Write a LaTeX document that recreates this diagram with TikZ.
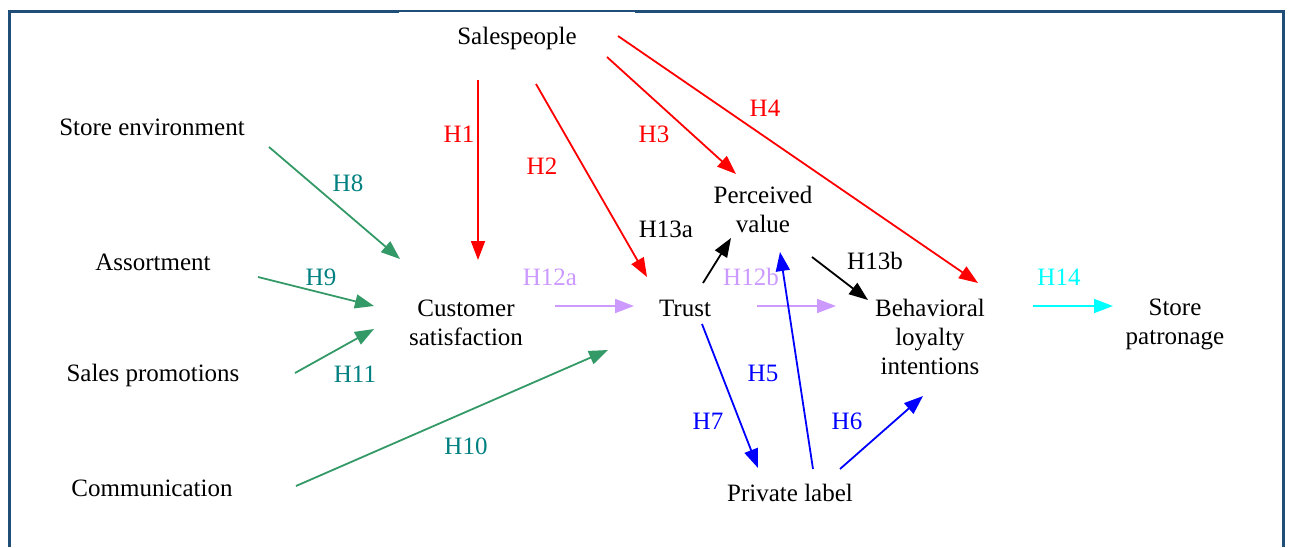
\documentclass[tikz,border=0pt]{standalone}
\usepackage{fontspec}
\setmainfont{LiberationSerif}[Extension=.ttf, UprightFont=*-Regular, BoldFont=*-Bold]
\usetikzlibrary{arrows.meta}
\definecolor{frameblue}{HTML}{1F4E79}
\definecolor{arrgreen}{HTML}{339966}
\definecolor{labteal}{HTML}{008080}
\definecolor{lilac}{HTML}{CC99FF}
\definecolor{aqua}{RGB}{0,255,255}
\definecolor{pureblue}{RGB}{0,0,255}
\definecolor{purered}{RGB}{255,0,0}
\begin{document}
\begin{tikzpicture}[x=1pt,y=-1pt,
  every node/.style={font=\fontsize{25}{29}\selectfont, inner sep=0pt, align=center},
  concept/.style={text=black},
  hyp/.style={line width=1.8pt, -{Triangle[length=19pt,width=14pt]}}]
\useasboundingbox (0,0) rectangle (1291,547);
% frame, open at the bottom
\draw[frameblue, line width=3pt] (9,547) -- (9,11.5) -- (1283,11.5) -- (1283,547);
\fill[white] (399,11.6) rectangle (635,20);

% constructs
\node[concept] (sales) at (517,38) {Salespeople};
\node[concept] (env)   at (152,127) {Store environment};
\node[concept] (assort) at (153,262) {Assortment};
\node[concept] (promo) at (153,375) {Sales promotions};
\node[concept] (comm)  at (152,488) {Communication};
\node[concept] (cs)    at (466,323) {Customer\\satisfaction};
\node[concept] (trust) at (685,308) {Trust};
\node[concept] (pv)    at (763,209) {Perceived\\value};
\node[concept] (bli)   at (930,337) {Behavioral\\loyalty\\intentions};
\node[concept] (sp)    at (1175,324) {Store\\patronage};
\node[concept] (pl)    at (790,493) {Private label};

% arrow end points
\coordinate (h8a) at (269,147);  \coordinate (h8b) at (400,259);
\coordinate (h9a) at (258,277);  \coordinate (h9b) at (374,306);
\coordinate (h11a) at (295,373); \coordinate (h11b) at (374,329);
\coordinate (h10a) at (296,486); \coordinate (h10b) at (608,350);
\coordinate (h1a) at (478,80);   \coordinate (h1b) at (478,260);
\coordinate (h2a) at (536,84);   \coordinate (h2b) at (647,277);
\coordinate (h3a) at (607,57);   \coordinate (h3b) at (736,174);
\coordinate (h4a) at (618,36);   \coordinate (h4b) at (978,283);
\coordinate (h12aa) at (555,306); \coordinate (h12ab) at (634,306);
\coordinate (h13aa) at (703,283); \coordinate (h13ab) at (731,238);
\coordinate (h12ba) at (757,306); \coordinate (h12bb) at (836,306);
\coordinate (h13ba) at (812,257); \coordinate (h13bb) at (868,300);
\coordinate (h5a) at (813,469);  \coordinate (h5b) at (780,252);
\coordinate (h7a) at (702,324);  \coordinate (h7b) at (758,468);
\coordinate (h6a) at (840,469);  \coordinate (h6b) at (923,396);
\coordinate (h14a) at (1033,306); \coordinate (h14b) at (1113,306);

% paths
\draw[hyp, arrgreen] (h8a) -- (h8b);
\draw[hyp, arrgreen] (h9a) -- (h9b);
\draw[hyp, arrgreen] (h11a) -- (h11b);
\draw[hyp, arrgreen] (h10a) -- (h10b);
\draw[hyp, purered] (h1a) -- (h1b);
\draw[hyp, purered] (h2a) -- (h2b);
\draw[hyp, purered] (h3a) -- (h3b);
\draw[hyp, purered] (h4a) -- (h4b);
\draw[hyp, lilac] (h12aa) -- (h12ab);
\draw[hyp, black] (h13aa) -- (h13ab);
\draw[hyp, lilac] (h12ba) -- (h12bb);
\draw[hyp, black] (h13ba) -- (h13bb);
\draw[hyp, pureblue] (h5a) -- (h5b);
\draw[hyp, pureblue] (h7a) -- (h7b);
\draw[hyp, pureblue] (h6a) -- (h6b);
\draw[hyp, aqua] (h14a) -- (h14b);

% hypothesis labels
\node[text=purered] (l1) at (459,134) {H1};
\node[text=purered] (l2) at (542,166) {H2};
\node[text=purered] (l3) at (654,134) {H3};
\node[text=purered] (l4) at (765,108) {H4};
\node[text=labteal] (l8) at (348,183) {H8};
\node[text=labteal] (l9) at (321,277) {H9};
\node[text=labteal] (l11) at (355,374) {H11};
\node[text=labteal] (l10) at (466,446) {H10};
\node[text=lilac] (l12a) at (550,277) {H12a};
\node[text=black] (l13a) at (666,229) {H13a};
\node[text=lilac] (l12b) at (751,277) {H12b};
\node[text=black] (l13b) at (875,261) {H13b};
\node[text=pureblue] (l5) at (763,373) {H5};
\node[text=pureblue] (l7) at (708,421) {H7};
\node[text=pureblue] (l6) at (847,421) {H6};
\node[text=aqua] (l14) at (1059,277) {H14};
\end{tikzpicture}
\end{document}
